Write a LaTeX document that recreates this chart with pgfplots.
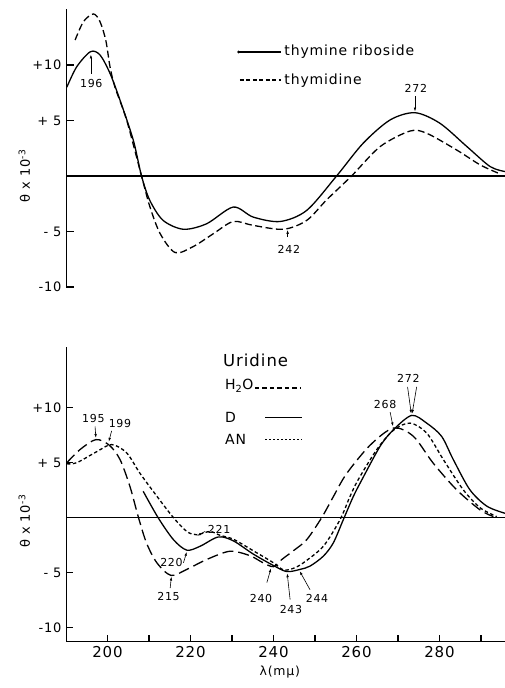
\documentclass[border=0pt]{standalone}
\usepackage{pgfplots}
\pgfplotsset{compat=1.18}
\usepackage{fontspec}
\setmainfont{DejaVu Sans}[LetterSpace=6]
\usetikzlibrary{arrows.meta}
\newcommand{\ann}{\fontsize{11}{11}\selectfont}
\newcommand{\leg}{\fontsize{14}{14}\selectfont}
\begin{document}
\begin{tikzpicture}
\useasboundingbox (0,0) rectangle (505pt,688pt);
\tikzset{ar/.style={-{Latex[length=4pt,width=2.5pt]}, line width=0.6pt}}
\pgfplotsset{
  common/.style={
    x=4.15pt, xmin=190, xmax=295.8, clip=false,
    anchor=south west,
    tick align=inside, major tick length=8pt,
    axis line style={line width=1pt, black},
    tick style={line width=1.2pt, black},
    ytick={-10,-5,5,10}, yticklabels={-10,- 5,+ 5,+10},
    yticklabel style={font=\fontsize{13}{13}\selectfont, xshift=-1pt},
    ylabel={θ x 10\textsuperscript{-3}},
    ylabel style={font=\fontsize{13}{13}\selectfont},
  },
  zero/.style={black, line width=1.3pt},
  cv/.style={black, line width=1.3pt, smooth, tension=0.5},
}
% ---------------- top panel ----------------
\begin{axis}[common, y=11.1pt, ymin=-10, ymax=15, at={(66pt,401pt)},
  axis x line=none, axis y line*=left,
  ylabel style={at={(axis description cs:-0.095,0.4)}, anchor=center}]
\addplot[zero] coordinates {(190,0) (295.8,0)};
% thymine riboside
\addplot[cv] coordinates {
(190.2,8.0) (192.6,9.85) (195.9,11.2) (198.2,10.9) (200.6,9.25) (203,6.85)
(206.2,3.25) (208.2,0) (210.2,-2.2) (213.4,-4.0) (218.3,-4.8) (223.9,-4.3)
(230.3,-2.8) (235.1,-3.7) (241.6,-4.1) (248,-3.1) (255.2,0) (261.6,2.95)
(268.1,5.05) (274.1,5.7) (280.1,4.75) (286.6,2.65) (292.2,0.85) (295.8,0.4)};
% thymidine
\addplot[cv, dash pattern=on 7pt off 3.5pt] coordinates {
(192.2,12.25) (194.2,13.9) (196.6,14.6) (198.2,13.9) (199.6,12.2) (200.6,9.85)
(201.8,8.0) (204.6,5.05) (208.2,0) (210.2,-2.75) (212.7,-5.2) (216.3,-6.9)
(220.7,-6.35) (225.5,-5.2) (230.3,-4.1) (235.1,-4.45) (242.4,-4.8) (248,-4.0)
(252.8,-2.15) (258.8,0) (265.7,2.65) (272.9,4.05) (276.9,3.85) (284.1,2.35)
(289.8,1.0) (294.2,0.25)};
% legend
\draw[line width=1.3pt] (axis cs:231.4,11.17) -- (axis cs:241.8,11.17);
\fill (axis cs:231.6,11.17) circle (1.6pt);
\node[anchor=west, font=\leg, inner sep=0pt] at (axis cs:242.6,11.17) {thymine riboside};
\draw[line width=1.3pt, dash pattern=on 4pt off 2.5pt] (axis cs:231.9,8.65) -- (axis cs:241.8,8.65);
\node[anchor=west, font=\leg, inner sep=0pt] at (axis cs:242.6,8.55) {thymidine};
% annotations
\node[font=\ann] at (axis cs:196.1,8.3) {196};
\draw[ar] (axis cs:196,9.2) -- (axis cs:196,10.95);
\node[font=\ann] at (axis cs:243.7,-6.6) {242};
\draw[ar] (axis cs:243.4,-5.5) -- (axis cs:243.4,-4.85);
\node[font=\ann] at (axis cs:274.3,7.9) {272};
\draw[ar] (axis cs:274.1,7.2) -- (axis cs:274.1,5.8);
\end{axis}
% ---------------- bottom panel ----------------
\begin{axis}[common, y=11pt, ymin=-11.3, ymax=15.5, at={(66pt,46pt)},
  axis x line*=bottom, axis y line*=left,
  xtick={200,210,...,290}, xticklabels={200,,220,,240,,260,,280,},
  xticklabel style={font=\fontsize{15}{15}\selectfont, yshift=-1pt},
  major tick length=7pt,
  ylabel style={at={(axis description cs:-0.095,0.41)}, anchor=center},
  xlabel={λ(mμ)},
  xlabel style={font=\fontsize{12.5}{12.5}\selectfont, at={(axis description cs:0.487,-0.103)}, anchor=center}]
\addplot[zero] coordinates {(190,0) (295.8,0)};
% H2O
\addplot[cv, dash pattern=on 11pt off 5pt] coordinates {
(190.2,5.0) (193.4,6.2) (197.2,7.1) (200.4,6.6) (203,5.3) (205.4,2.85)
(207.4,0.1) (209.4,-2.3) (211.9,-4.1) (215.3,-5.25) (219.1,-4.7) (223.9,-3.8)
(229.5,-3.05) (234.3,-3.45) (237.5,-4.1) (240,-4.45) (242,-3.8) (244.8,-3.0)
(248,-2.0) (251.6,0) (254.4,1.9) (257.6,4.0) (263.3,6.6) (268.9,8.15) (273.7,7.4)
(278.5,4.95) (284.1,2.55) (289.8,0.7) (293,0.1)};
% D
\addplot[cv] coordinates {
(208.6,2.4) (212.2,0) (215.9,-2.0) (219.1,-2.95) (222.3,-2.6) (226.7,-1.75)
(230.3,-2.1) (235.1,-3.3) (240,-4.35) (243.2,-4.9) (246.4,-4.7) (248.8,-4.4)
(252,-3.5) (254.4,-2.3) (256.8,-0.2) (259.2,1.9) (261.3,3.45) (265.7,6.5)
(268.9,8.0) (273.3,9.3) (276.9,8.6) (280.5,7.4) (283.3,5.3) (287.3,2.55)
(291.4,1.05) (295.8,0.4)};
% AN
\addplot[cv, dash pattern=on 3.5pt off 2.5pt] coordinates {
(190.2,4.9) (192.6,5.0) (197.4,6.0) (201,6.65) (204.6,5.9) (207.8,4.05)
(211.9,1.95) (215.9,0) (219.1,-1.25) (221.5,-1.55) (224.7,-1.25) (227.1,-1.6)
(230.3,-1.95) (235.1,-3.0) (240,-4.1) (242.4,-4.75) (244.8,-4.6) (247.2,-4.1)
(252,-2.6) (256,-0.2) (258.4,1.9) (260.4,3.45) (264.9,6.2) (268.9,7.95)
(272.9,8.6) (276.9,7.7) (280.9,5.3) (285.7,2.55) (289.8,0.9) (293.8,0.1)};
% legend
\node[anchor=west, font=\fontsize{16.5}{16.5}\selectfont, inner sep=0pt] at (axis cs:227.8,14.3) {Uridine};
\node[anchor=west, font=\leg, inner sep=0pt] at (axis cs:228.3,12.0) {H\textsubscript{2}O};
\draw[line width=1.3pt, dash pattern=on 4.5pt off 3pt] (axis cs:235.5,11.8) -- (axis cs:246.4,11.8);
\node[anchor=west, font=\leg, inner sep=0pt] at (axis cs:228.3,9.1) {D};
\draw[line width=1.3pt] (axis cs:238,9.1) -- (axis cs:246.9,9.1);
\node[anchor=west, font=\leg, inner sep=0pt] at (axis cs:228.3,7.1) {AN};
\draw[line width=1.3pt, dash pattern=on 2pt off 2pt] (axis cs:238,7.1) -- (axis cs:246.9,7.1);
% annotations
\node[font=\ann] at (axis cs:196.6,9.0) {195};
\draw[ar] (axis cs:197,8.3) -- (axis cs:197.2,7.25);
\node[font=\ann] at (axis cs:203,8.6) {199};
\draw[ar] (axis cs:201,7.9) -- (axis cs:200.3,6.9);
\node[font=\ann] at (axis cs:215.4,-4.05) {220};
\draw[ar] (axis cs:218.3,-4.1) -- (axis cs:219.1,-3.1);
\node[font=\ann] at (axis cs:226.9,-1.1) {221};
\draw[ar] (axis cs:223.5,-1.25) -- (axis cs:221.6,-1.65);
\node[font=\ann] at (axis cs:214.7,-7.15) {215};
\draw[ar] (axis cs:215.1,-6.4) -- (axis cs:215.4,-5.35);
\node[font=\ann] at (axis cs:237,-7.35) {240};
\draw[ar] (axis cs:238.4,-5.9) -- (axis cs:239.4,-4.6);
\node[font=\ann] at (axis cs:244.2,-8.35) {243};
\draw[ar] (axis cs:244,-7.45) -- (axis cs:243.3,-5.05);
\node[font=\ann] at (axis cs:250.5,-7.35) {244};
\draw[ar] (axis cs:248.8,-6.55) -- (axis cs:246.3,-4.85);
\node[font=\ann] at (axis cs:266.9,10.3) {268};
\draw[ar] (axis cs:268.1,9.6) -- (axis cs:268.8,8.3);
\node[font=\ann] at (axis cs:272.5,12.7) {272};
\draw[ar] (axis cs:272.3,11.9) -- (axis cs:273.2,9.45);
\draw[ar] (axis cs:274.5,11.9) -- (axis cs:273.4,9.45);
\end{axis}
\end{tikzpicture}
\end{document}
